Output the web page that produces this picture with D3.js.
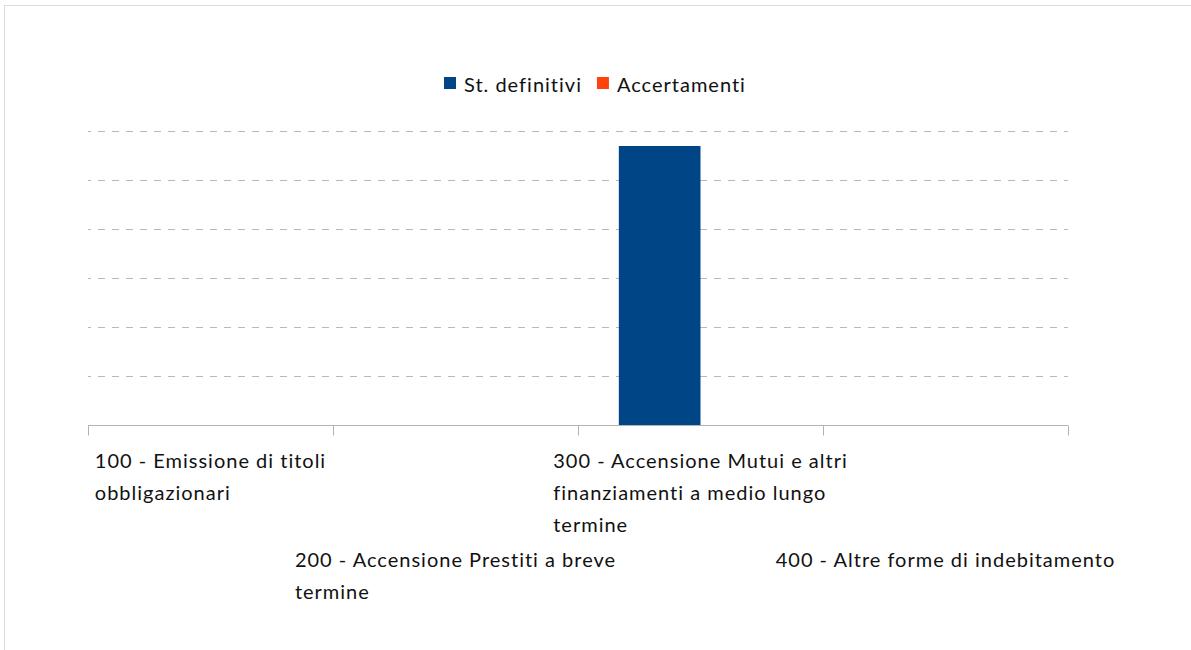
<!DOCTYPE html>
<html>
<head>
<meta charset="utf-8">
<script src="https://cdn.jsdelivr.net/npm/d3@7"></script>
<style>
  html, body { margin: 0; padding: 0; background: #fff; }
  svg { display: block; }
  text { font-family: Lato, "DejaVu Sans", sans-serif; fill: #111; letter-spacing: 1px; }
</style>
</head>
<body>
<div id="chart"></div>
<script>
const categories = [
  "100 - Emissione di titoli obbligazionari",
  "200 - Accensione Prestiti a breve termine",
  "300 - Accensione Mutui e altri finanziamenti a medio lungo termine",
  "400 - Altre forme di indebitamento"
]
const seriesNames = ["St. definitivi", "Accertamenti"]
const stDefinitivi = [0, 0, 2847000, 0]
const accertamenti = [0, 0, 0, 0]
const yTicks = [0, 500000, 1000000, 1500000, 2000000, 2500000, 3000000]

const colors = ["#004586", "#ff420e"]

const width = 1191
const height = 650
const margin = { top: 131, left: 88, right: 123, bottom: 225 }
const fontSize = 20
const lineHeight = 32

const svg = d3.select("#chart")
  .append("svg")
  .attr("width", width)
  .attr("height", height)

// outer frame
svg.append("rect")
  .attr("x", 4.5)
  .attr("y", 5.5)
  .attr("width", width)
  .attr("height", height)
  .attr("fill", "none")
  .attr("stroke", "#dcdcdc")

const data = categories.map((c, i) => ({
  cat: c,
  values: [stDefinitivi[i], accertamenti[i]]
}))

const x = d3.scaleBand()
  .domain(categories)
  .range([margin.left, width - margin.right])

const bw = x.bandwidth()
const x1 = d3.scaleBand()
  .domain(seriesNames)
  .range([bw / 6, bw * 5 / 6])

const y = d3.scaleLinear()
  .domain([0, d3.max(yTicks)])
  .range([height - margin.bottom, margin.top])

// dashed gridlines
svg.append("g")
  .selectAll("line")
  .data(yTicks.filter(d => d > 0))
  .join("line")
  .attr("x1", margin.left)
  .attr("x2", width - margin.right)
  .attr("y1", d => Math.round(y(d)) + 0.5)
  .attr("y2", d => Math.round(y(d)) + 0.5)
  .attr("stroke", "#b8b8b8")
  .attr("stroke-dasharray", "7,7")
  .attr("stroke-dashoffset", 4)

// bars
svg.append("g")
  .selectAll("g")
  .data(data)
  .join("g")
  .attr("transform", d => `translate(${x(d.cat)},0)`)
  .selectAll("rect")
  .data(d => d.values.map((v, i) => ({ name: seriesNames[i], v, i })))
  .join("rect")
  .attr("x", d => x1(d.name))
  .attr("width", x1.bandwidth())
  .attr("y", d => y(d.v))
  .attr("height", d => y(0) - y(d.v))
  .attr("fill", d => colors[d.i])

// x axis line + ticks at band edges
const baseY = Math.round(y(0)) + 0.5
const axis = svg.append("g").attr("stroke", "#b3b3b3")
axis.append("line")
  .attr("x1", margin.left)
  .attr("x2", width - margin.right)
  .attr("y1", baseY)
  .attr("y2", baseY)
const edges = categories.map(c => x(c)).concat([x(categories[categories.length - 1]) + bw])
axis.selectAll("line.tick")
  .data(edges)
  .join("line")
  .attr("class", "tick")
  .attr("x1", d => Math.round(d) + 0.5)
  .attr("x2", d => Math.round(d) + 0.5)
  .attr("y1", baseY)
  .attr("y2", baseY + 10)

// category labels: wrapped, staggered in two rows
const measure = svg.append("text").attr("font-size", fontSize)
function textWidth(s) {
  measure.text(s)
  return measure.node().getBBox().width
}
const maxW = bw * 1.43
function wrap(label) {
  const words = label.split(" ")
  const lines = []
  let cur = ""
  words.forEach(w => {
    const t = cur ? cur + " " + w : w
    if (cur && textWidth(t) > maxW) {
      lines.push(cur)
      cur = w
    } else {
      cur = t
    }
  })
  if (cur) lines.push(cur)
  return lines
}
const wrapped = categories.map(c => {
  const lines = wrap(c)
  return { cat: c, lines, w: d3.max(lines, textWidth) }
})
measure.remove()

const row1Base = 468
const row1Lines = d3.max(wrapped.filter((d, i) => i % 2 === 0), d => d.lines.length)
const row2Base = row1Base + row1Lines * lineHeight + 3

const labels = svg.append("g")
wrapped.forEach((d, i) => {
  const cx = x(d.cat) + bw / 2
  const t = labels.append("text")
    .attr("font-size", fontSize)
    .attr("x", cx - d.w / 2)
    .attr("y", i % 2 === 0 ? row1Base : row2Base)
  d.lines.forEach((l, j) => {
    t.append("tspan")
      .attr("x", cx - d.w / 2)
      .attr("dy", j === 0 ? 0 : lineHeight)
      .text(l)
  })
})

// legend
const legend = svg.append("g")
let lx = 444
seriesNames.forEach((s, i) => {
  legend.append("rect")
    .attr("x", lx)
    .attr("y", 77)
    .attr("width", 12)
    .attr("height", 12)
    .attr("fill", colors[i])
  const t = legend.append("text")
    .attr("x", lx + 20)
    .attr("y", 92)
    .attr("font-size", fontSize)
    .text(s)
  lx += 20 + t.node().getBBox().width + 15
})
</script>
</body>
</html>
